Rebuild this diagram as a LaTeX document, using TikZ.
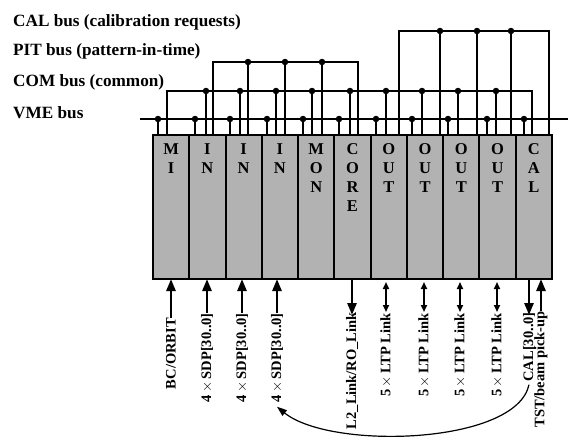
\documentclass[tikz,border=0pt]{standalone}
\usepackage{fontspec}
\setmainfont{Liberation Serif}
\usetikzlibrary{arrows.meta}
\begin{document}
\begin{tikzpicture}[x=1pt,y=-1pt,
  font=\bfseries,
  modbox/.style={draw=black,fill=black!30,line width=2pt,minimum width=36.27pt,minimum height=144pt,anchor=north west,inner sep=0pt,outer sep=0pt},
  modtext/.style={anchor=north,align=center,font=\fontsize{16.5}{19}\bfseries\selectfont,inner sep=0pt},
  buslabel/.style={anchor=base west,font=\fontsize{17.2}{19}\bfseries\selectfont,inner sep=0pt},
  bus/.style={line width=2.8pt},
  tap/.style={line width=2.8pt},
  dot/.style={circle,fill=black,inner sep=0pt,minimum size=6.5pt},
  iolabel/.style={rotate=90,anchor=east,font=\fontsize{14.5}{16}\bfseries\selectfont,inner sep=0pt},
  bigarrow/.style={line width=2.6pt,-{Triangle[length=12pt,width=9pt]}},
  dblarrow/.style={line width=1.7pt,{Triangle[length=7pt,width=6pt]}-{Triangle[length=7pt,width=6pt]}},
  curvearrow/.style={line width=1.2pt,-{Triangle[length=10pt,width=7pt]}}
]
\useasboundingbox (0,0) rectangle (568,439);

% bus labels
\node[buslabel] (lcal) at (13,26) {CAL bus (calibration requests)};
\node[buslabel] (lpit) at (13,55) {PIT bus (pattern-in-time)};
\node[buslabel] (lcom) at (13,86) {COM bus (common)};
\node[buslabel] (lvme) at (13,118) {VME bus};

% modules
\foreach \i/\nm in {0/m1,1/m2,2/m3,3/m4,4/m5,5/m6,6/m7,7/m8,8/m9,9/m10,10/m11}{
  \node[modbox] (\nm) at ({153+36.27*\i},135) {};
}
\node[modtext] (t1) at (m1.north) [yshift=-8pt] {M\\I};
\node[modtext] (t2) at (m2.north) [yshift=-8pt] {I\\N};
\node[modtext] (t3) at (m3.north) [yshift=-8pt] {I\\N};
\node[modtext] (t4) at (m4.north) [yshift=-8pt] {I\\N};
\node[modtext] (t5) at (m5.north) [yshift=-8pt] {M\\O\\N};
\node[modtext] (t6) at (m6.north) [yshift=-8pt] {C\\O\\R\\E};
\node[modtext] (t7) at (m7.north) [yshift=-8pt] {O\\U\\T};
\node[modtext] (t8) at (m8.north) [yshift=-8pt] {O\\U\\T};
\node[modtext] (t9) at (m9.north) [yshift=-8pt] {O\\U\\T};
\node[modtext] (t10) at (m10.north) [yshift=-8pt] {O\\U\\T};
\node[modtext] (t11) at (m11.north) [yshift=-8pt] {C\\A\\L};

% VME bus
\coordinate (vmeL) at (140,119);
\coordinate (vmeR) at (568,119);
\draw[bus] (vmeL) -- (vmeR);
\foreach \x in {158,195,230,267,303,339,376,412,448,487,524}{
  \draw[tap] (\x,119) -- (\x,135);
  \node[dot] at (\x,119) {};
}

% COM bus
\draw[bus] (167,135) -- (167,91) -- (532,91) -- (532,135);
\foreach \x in {206,240,276,312,350,386,422,458,496}{
  \draw[tap] (\x,91) -- (\x,135);
  \node[dot] at (\x,91) {};
}

% PIT bus
\draw[bus] (213,135) -- (213,62) -- (358,62) -- (358,135);
\foreach \x in {248,285,322}{
  \draw[tap] (\x,62) -- (\x,135);
  \node[dot] at (\x,62) {};
}

% CAL bus
\draw[bus] (399,135) -- (399,31) -- (549,31) -- (549,135);
\foreach \x in {440,477,511}{
  \draw[tap] (\x,31) -- (\x,135);
  \node[dot] at (\x,31) {};
}

% redraw module borders on top
\foreach \nm in {m1,m2,m3,m4,m5,m6,m7,m8,m9,m10,m11}{
  \draw[line width=2pt] (\nm.north west) rectangle (\nm.south east);
}

% I/O labels
\node[iolabel] (bc) at (171,318) {BC/ORBIT};
\node[iolabel] (sdp1) at (207,313) {4\,$\times$\,SDP[30..0]};
\node[iolabel] (sdp2) at (242,313) {4\,$\times$\,SDP[30..0]};
\node[iolabel] (sdp3) at (277,313) {4\,$\times$\,SDP[30..0]};
\node[iolabel] (l2) at (352,312) {L2\_Link/RO\_Link};
\node[iolabel] (ltp1) at (386,313) {5\,$\times$\,LTP Link};
\node[iolabel] (ltp2) at (424,313) {5\,$\times$\,LTP Link};
\node[iolabel] (ltp3) at (460,313) {5\,$\times$\,LTP Link};
\node[iolabel] (ltp4) at (497,313) {5\,$\times$\,LTP Link};
\node[iolabel] (calin) at (529,312) {CAL[30..0]};
\node[iolabel] (tst) at (541,311) {TST/beam pick-up};

% I/O arrows
\draw[bigarrow] (bc.east) -- (bc.east |- m1.south);
\draw[bigarrow] (sdp1.east) -- (sdp1.east |- m2.south);
\draw[bigarrow] (sdp2.east) -- (sdp2.east |- m3.south);
\draw[bigarrow] (sdp3.east) -- (sdp3.east |- m4.south);
\draw[bigarrow] (l2.east |- m6.south) -- ([yshift=-3pt]l2.east);
\draw[dblarrow] ([yshift=-3pt]ltp1.east |- m7.south) -- ([yshift=1pt]ltp1.east);
\draw[dblarrow] ([yshift=-3pt]ltp2.east |- m8.south) -- ([yshift=1pt]ltp2.east);
\draw[dblarrow] ([yshift=-3pt]ltp3.east |- m9.south) -- ([yshift=1pt]ltp3.east);
\draw[dblarrow] ([yshift=-3pt]ltp4.east |- m10.south) -- ([yshift=1pt]ltp4.east);
\draw[bigarrow] (calin.east |- m11.south) -- ([yshift=-3pt]calin.east);
\draw[bigarrow] (tst.east) -- (tst.east |- m11.south);

% curved arrow
\draw[curvearrow] ([yshift=-3pt]calin.west) .. controls (516,445) and (330,450) .. ([yshift=-4pt]sdp3.west);
\end{tikzpicture}
\end{document}
